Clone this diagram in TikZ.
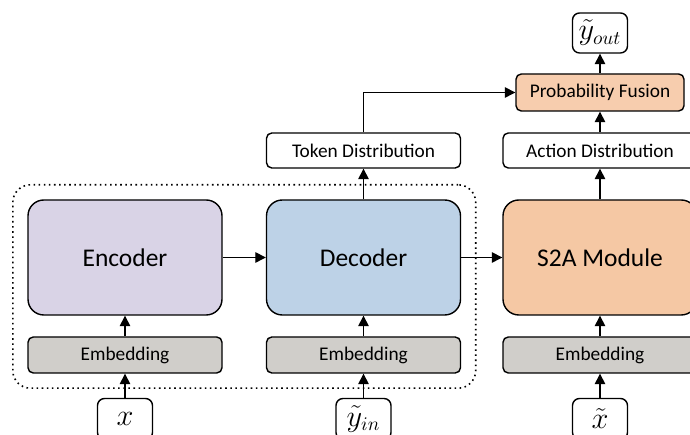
\documentclass[tikz,border=0pt]{standalone}
\usepackage{fontspec}
\setmainfont{Carlito}
\usepackage{amsmath}
\usetikzlibrary{arrows.meta,positioning,fit}
\definecolor{encf}{HTML}{D9D3E6}
\definecolor{decf}{HTML}{BDD2E7}
\definecolor{s2af}{HTML}{F5C8A4}
\definecolor{embf}{HTML}{D0CECA}
\definecolor{fusf}{HTML}{F7CDAE}

\begin{document}
\begin{tikzpicture}[font=\fontsize{11}{13}\selectfont, line width=0.8pt,
   big/.style={draw,rounded corners=9pt,minimum width=3.88cm,minimum height=2.3cm,font=\fontsize{14.5}{16}\selectfont},
   emb/.style={draw,fill=embf,rounded corners=3pt,minimum width=3.88cm,minimum height=0.72cm},
   dist/.style={draw,fill=white,rounded corners=3pt,minimum width=3.88cm,minimum height=0.7cm},
   inp/.style={draw,rounded corners=4pt,minimum width=1.1cm,minimum height=0.82cm,inner sep=1pt,font=\fontsize{16}{18}\selectfont},
   fl/.style={-{Triangle[length=6pt,width=6pt]}}]
  \useasboundingbox (0,0) rectangle (13.8,8.7);
  % three blocks
  \node[big,fill=encf] (enc) at (2.5,3.55) {Encoder};
  \node[big,fill=decf] (dec) at (7.27,3.55) {Decoder};
  \node[big,fill=s2af] (s2a) at (12.0,3.55) {S2A Module};
  \node[emb] (embx) at (2.5,1.6) {Embedding};
  \node[emb] (emby) at (7.27,1.6) {Embedding};
  \node[emb] (embs) at (12.0,1.6) {Embedding};
  \node[inp] (x) at (2.5,0.32) {$x$};
  \node[inp] (yin) at (7.27,0.32) {$\tilde{y}_{in}$};
  \node[inp] (xs) at (12.0,0.32) {$\tilde{x}$};
  % outputs
  \node[dist] (tok) at (7.27,5.69) {Token Distribution};
  \node[dist] (act) at (12.0,5.69) {Action Distribution};
  \node[draw,fill=fusf,rounded corners=3pt,minimum width=3.36cm,minimum height=0.74cm] (fus) at (12.0,6.85) {Probability Fusion};
  \node[inp,minimum height=0.8cm] (yout) at (12.0,8.04) {$\tilde{y}_{out}$};
  % seq2seq backbone
  \node[draw,dotted,line width=0.9pt,rounded corners=10pt,inner sep=0.29cm,fit=(enc)(dec)(embx)(emby)] (s2s) {};
  \draw[fl] (x)--(embx); \draw[fl] (embx)--(enc);
  \draw[fl] (yin)--(emby); \draw[fl] (emby)--(dec);
  \draw[fl] (xs)--(embs); \draw[fl] (embs)--(s2a);
  \draw[fl] (enc)--(dec); \draw[fl] (dec)--(s2a);
  \draw[fl] (dec)--(tok); \draw[fl] (s2a)--(act);
  \draw[fl] (act)--(fus); \draw[fl] (fus)--(yout);
  \draw[fl] (tok.north) |- (fus.west);
\end{tikzpicture}
\end{document}
